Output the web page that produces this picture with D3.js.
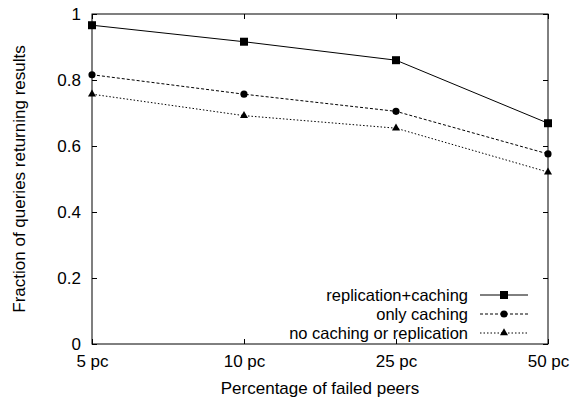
<!DOCTYPE html>
<html><head><meta charset="utf-8">
<script src="https://cdn.jsdelivr.net/npm/d3@7"></script>
<style>body{margin:0;background:#fff}</style>
</head><body><svg id="c" width="571" height="400"></svg>
<script>
const categories = ["5 pc","10 pc","25 pc","50 pc"];
const seriesNames = ["replication+caching","only caching","no caching or replication"];
const replicationCaching = [0.966, 0.916, 0.860, 0.669];
const onlyCaching = [0.816, 0.757, 0.705, 0.576];
const noCachingOrReplication = [0.757, 0.692, 0.654, 0.521];
const yTicks = [0, 0.2, 0.4, 0.6, 0.8, 1];
const yTickLabels = ["0","0.2","0.4","0.6","0.8","1"];

const FONT = "Liberation Sans, Arial, Helvetica, sans-serif";
const FS = 17;
const svg = d3.select("#c");
const L = 92, R = 548, T = 14, B = 344;
const x = d3.scalePoint().domain(categories).range([L, R]);
const y = d3.scaleLinear().domain([0, 1]).range([B, T]);

function styleText(sel, fs){ return sel.attr("font-family",FONT).attr("font-size",fs||FS).attr("fill","#000"); }

// ticks (inward, mirrored)
const gl = svg.append("g").attr("transform", `translate(${L},0)`)
  .call(d3.axisLeft(y).tickValues(yTicks).tickFormat((d,i)=>yTickLabels[i]).tickSize(-5).tickPadding(16));
const gr = svg.append("g").attr("transform", `translate(${R},0)`)
  .call(d3.axisRight(y).tickValues(yTicks).tickFormat("").tickSize(-5));
const gb = svg.append("g").attr("transform", `translate(0,${B})`)
  .call(d3.axisBottom(x).tickSize(-5).tickPadding(0));
const gt = svg.append("g").attr("transform", `translate(0,${T})`)
  .call(d3.axisTop(x).tickFormat("").tickSize(-5));
[gl,gr,gb,gt].forEach(g=>{
  g.attr("font-family",FONT).attr("font-size",FS);
  g.select(".domain").remove();
  g.selectAll(".tick line").attr("stroke","#000").attr("stroke-width",1);
  styleText(g.selectAll("text"));
});
gl.selectAll("text").attr("x",-11).attr("dy","0.35em");
gb.selectAll("text").attr("y",23).attr("dy",0);
svg.append("rect").attr("x",L).attr("y",T).attr("width",R-L).attr("height",B-T)
  .attr("fill","none").attr("stroke","#000").attr("stroke-width",1);

// axis titles
styleText(svg.append("text").attr("x",(L+R)/2).attr("y",394).attr("text-anchor","middle"))
  .text("Percentage of failed peers");
styleText(svg.append("text").attr("transform",`translate(25,${(T+B)/2}) rotate(-90)`).attr("text-anchor","middle"))
  .text("Fraction of queries returning results");

const series = [
  {name: seriesNames[0], values: replicationCaching, dash: null, sym: d3.symbolSquare, size: 64},
  {name: seriesNames[1], values: onlyCaching, dash: "3,2", sym: d3.symbolCircle, size: 40},
  {name: seriesNames[2], values: noCachingOrReplication, dash: "1.5,2", sym: d3.symbolTriangle, size: 28}
];
const line = d3.line().x((d,i)=>x(categories[i])).y(d=>y(d));
series.forEach((s,k)=>{
  svg.append("path").datum(s.values).attr("d",line).attr("fill","none").attr("stroke","#000")
    .attr("stroke-width",1).attr("stroke-dasharray",s.dash);
  svg.selectAll(null).data(s.values).enter().append("path")
    .attr("d",d3.symbol().type(s.sym).size(s.size))
    .attr("transform",(d,i)=>`translate(${x(categories[i])},${y(d)})`).attr("fill","#000");
  const ly = 295 + k*19;
  styleText(svg.append("text").attr("x",468).attr("y",ly).attr("dy","0.35em").attr("text-anchor","end"), 16.5).text(s.name);
  svg.append("line").attr("x1",480).attr("x2",528).attr("y1",ly).attr("y2",ly).attr("stroke","#000")
    .attr("stroke-width",1).attr("stroke-dasharray",s.dash);
  svg.append("path").attr("d",d3.symbol().type(s.sym).size(s.size)).attr("transform",`translate(504,${ly})`).attr("fill","#000");
});
</script></body></html>
